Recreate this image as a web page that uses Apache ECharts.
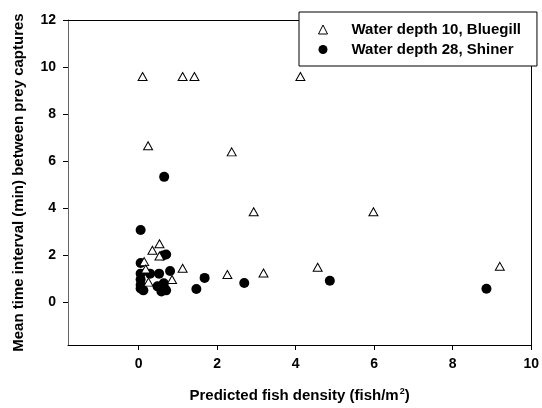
<!DOCTYPE html>
<html>
<head>
<meta charset="utf-8">
<script src="https://cdn.jsdelivr.net/npm/echarts@6/dist/echarts.min.js"></script>
<style>html,body{margin:0;padding:0;background:#fff}#c{width:542px;height:408px}</style>
</head>
<body>
<div id="c"></div>
<script>
const seriesNames = ['Water depth 10, Bluegill', 'Water depth 28, Shiner'];
const bluegillX = [0.10, 1.12, 1.42, 4.12, 0.24, 2.37, 2.93, 5.98, 0.53, 0.35, 0.53, 0.14, 0.18, 1.12, 2.26, 3.18, 4.56, 9.20, 0.85, 0.25];
const bluegillY = [9.60, 9.60, 9.60, 9.60, 6.66, 6.40, 3.86, 3.86, 2.50, 2.22, 1.98, 1.74, 1.43, 1.46, 1.19, 1.26, 1.50, 1.54, 0.98, 0.87];
const shinerX = [0.65, 0.05, 0.62, 0.70, 0.05, 0.80, 0.05, 0.29, 0.52, 1.68, 0.05, 2.69, 0.05, 0.48, 0.64, 0.66, 0.05, 0.12, 0.58, 0.70, 1.47, 4.87, 8.86];
const shinerY = [5.34, 3.08, 2.00, 2.04, 1.68, 1.34, 1.23, 1.23, 1.23, 1.05, 0.98, 0.83, 0.75, 0.69, 0.82, 0.60, 0.60, 0.52, 0.47, 0.52, 0.58, 0.93, 0.59];
const xTicks = [0, 2, 4, 6, 8, 10];
const yTicks = [0, 2, 4, 6, 8, 10, 12];

const pair = (xs, ys) => xs.map((x, i) => [x, ys[i]]);
const font = 'Liberation Sans, Arial, sans-serif';

const chart = echarts.init(document.getElementById('c'));
chart.setOption({
  animation: false,
  backgroundColor: '#fff',
  grid: { left: 68, top: 20, right: 9, bottom: 63 },
  legend: {
    orient: 'vertical',
    left: 299, top: 12,
    padding: [10, 16, 9, 19],
    itemGap: 5,
    itemWidth: 9, itemHeight: 9,
    backgroundColor: '#fff',
    borderColor: '#000', borderWidth: 1,
    z: 10,
    textStyle: { fontFamily: font, fontWeight: 'bold', fontSize: 15, color: '#000', padding: [0, 0, 0, 19] },
    data: [
      { name: seriesNames[0], icon: 'triangle', itemStyle: { color: '#fff', borderColor: '#000', borderWidth: 1 } },
      { name: seriesNames[1], icon: 'circle', itemStyle: { color: '#000' } }
    ]
  },
  xAxis: [{
    type: 'value', min: -1.8, max: 10,
    name: 'Predicted fish density (fish/m{sup|2})',
    nameLocation: 'middle', nameGap: 42,
    nameTextStyle: { fontFamily: font, fontWeight: 'bold', fontSize: 15, color: '#000',
      rich: { sup: { fontFamily: font, fontWeight: 'bold', fontSize: 9, color: '#000', verticalAlign: 'top', padding: [0, 0, 8, 1] } } },
    splitLine: { show: false },
    axisLine: { onZero: false, lineStyle: { color: '#000', width: 1 } },
    axisTick: { show: true, length: 5, customValues: xTicks, lineStyle: { color: '#000' } },
    axisLabel: { customValues: xTicks, margin: 12, fontFamily: font, fontWeight: 'bold', fontSize: 14, color: '#000' }
  }, {
    type: 'value', min: -1.8, max: 10, position: 'top',
    axisLine: { show: true, onZero: false, lineStyle: { color: '#000' } },
    axisTick: { show: false }, axisLabel: { show: false }, splitLine: { show: false }
  }],
  yAxis: [{
    type: 'value', min: -1.8, max: 12,
    name: 'Mean time interval (min) between prey captures',
    nameLocation: 'middle', nameGap: 42,
    nameTextStyle: { fontFamily: font, fontWeight: 'bold', fontSize: 15, color: '#000' },
    splitLine: { show: false },
    axisLine: { show: true, onZero: false, lineStyle: { color: '#666', width: 1 } },
    axisTick: { show: true, length: 5, customValues: yTicks, lineStyle: { color: '#000' } },
    axisLabel: { customValues: yTicks, margin: 12, fontFamily: font, fontWeight: 'bold', fontSize: 14, color: '#000' }
  }, {
    type: 'value', min: -1.8, max: 12, position: 'right',
    axisLine: { show: true, onZero: false, lineStyle: { color: '#000' } },
    axisTick: { show: false }, axisLabel: { show: false }, splitLine: { show: false }
  }],
  series: [
    {
      name: seriesNames[0], type: 'scatter', symbol: 'triangle', symbolSize: [9, 8],
      itemStyle: { color: '#fff', borderColor: '#000', borderWidth: 1, opacity: 1 },
      data: pair(bluegillX, bluegillY), z: 3
    },
    {
      name: seriesNames[1], type: 'scatter', symbol: 'circle', symbolSize: 10,
      itemStyle: { color: '#000', opacity: 1 },
      data: pair(shinerX, shinerY), z: 2
    }
  ]
});
</script>
</body>
</html>
